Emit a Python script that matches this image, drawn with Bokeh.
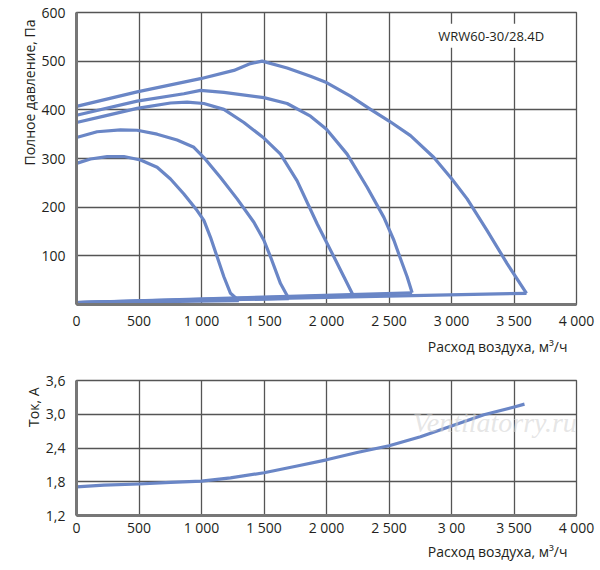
from bokeh.plotting import figure
from bokeh.layouts import column
from bokeh.models import FixedTicker, Label, Title, Range1d
from bokeh.embed import file_html
from bokeh.resources import INLINE

# pressure curves (flow m3/h, pressure Pa)
c1_x = [0, 112, 245, 379, 512, 645, 752, 859, 965, 1019, 1072, 1125, 1179, 1232, 1299]
c1_y = [290, 299, 304, 304, 297, 282, 258, 227, 193, 173, 138, 98, 57, 23, 8]
c2_x = [0, 165, 352, 485, 645, 805, 939, 1019, 1152, 1285, 1419, 1499, 1552, 1632, 1699]
c2_y = [343, 355, 359, 358, 350, 338, 323, 302, 261, 217, 169, 132, 98, 43, 12]
c3_x = [0, 219, 485, 752, 885, 1019, 1179, 1339, 1499, 1632, 1765, 1925, 2059, 2139, 2213]
c3_y = [374, 387, 403, 414, 416, 413, 401, 374, 342, 309, 254, 166, 98, 57, 19]
c4_x = [0, 485, 859, 992, 1179, 1499, 1685, 1872, 2000, 2165, 2325, 2459, 2539, 2592, 2645, 2685]
c4_y = [389, 418, 433, 440, 436, 425, 413, 387, 360, 309, 241, 179, 132, 94, 57, 24]
c5_x = [0, 485, 992, 1259, 1392, 1485, 1685, 1872, 2000, 2192, 2352, 2501, 2672, 2859, 3003,
        3125, 3285, 3445, 3600]
c5_y = [407, 437, 464, 481, 495, 500, 486, 469, 456, 428, 401, 377, 347, 302, 258,
        217, 152, 84, 23]
curves = [(c1_x, c1_y), (c2_x, c2_y), (c3_x, c3_y), (c4_x, c4_y), (c5_x, c5_y)]
base_x, base_y = 0, 4

# current curve (flow m3/h, current A)
cur_x = [0, 219, 501, 752, 1000, 1232, 1501, 1765, 2000, 2245, 2501, 2752, 3000, 3259, 3502, 3584]
cur_y = [1.71, 1.74, 1.76, 1.79, 1.81, 1.87, 1.96, 2.08, 2.19, 2.32, 2.44, 2.60, 2.79, 2.99, 3.13, 3.18]

x_ticks = [0, 500, 1000, 1500, 2000, 2500, 3000, 3500, 4000]
x_labels_top = ["0", "500", "1 000", "1 500", "2 000", "2 500", "3 000", "3 500", "4 000"]
x_labels_bot = ["0", "500", "1 000", "1 500", "2 000", "2 500", "3 00", "3 500", "4 000"]
p_ticks = [100, 200, 300, 400, 500, 600]
a_ticks = [1.2, 1.8, 2.4, 3.0, 3.6]
a_labels = ["1,2", "1,8", "2,4", "3,0", "3,6"]

FONT = "Open Sans"
TXT = "#231f20"
BLUE = "#6a86c6"
GRID = "#555555"


def style(p, yticks, xstand):
    p.xaxis.ticker = FixedTicker(ticks=x_ticks)
    p.yaxis.ticker = FixedTicker(ticks=yticks)
    for ax in (p.xaxis[0], p.yaxis[0]):
        ax.major_tick_line_color = None
        ax.minor_tick_line_color = None
        ax.major_tick_out = 0
        ax.major_tick_in = 0
        ax.axis_line_color = "#777777"
        ax.axis_line_width = 3
        ax.major_label_text_font = FONT
        ax.major_label_text_font_size = "14px"
        ax.major_label_text_color = TXT
    p.xaxis.major_label_standoff = xstand
    p.yaxis.major_label_standoff = 11
    p.xgrid.grid_line_color = GRID
    p.ygrid.grid_line_color = GRID
    p.xgrid.grid_line_width = 1.3
    p.ygrid.grid_line_width = 1.3
    p.outline_line_color = GRID
    p.outline_line_width = 1.3
    p.background_fill_color = "white"
    p.border_fill_color = "white"


def title(text, offset, standoff):
    return Title(text=text, align="right", offset=offset, standoff=standoff,
                 text_font=FONT, text_font_size="14px",
                 text_font_style="normal", text_color=TXT)


p1 = figure(width=600, height=359, output_backend="svg", toolbar_location=None,
            x_range=Range1d(0, 4000), y_range=Range1d(0, 600),
            min_border_left=76, min_border_right=24, min_border_top=12, min_border_bottom=55)
style(p1, p_ticks, 6)
p1.xaxis.major_label_overrides = dict(zip(x_ticks, x_labels_top))
for cx, cy in curves:
    p1.line(cx, cy, line_color=BLUE, line_width=3.2, line_join="round")
    p1.line([base_x, cx[-1]], [base_y, cy[-1]], line_color=BLUE, line_width=3.2)
p1.add_layout(Label(x=2870, y=552, text="WRW60-30/28.4D", text_font=FONT,
                    text_font_size="13px", text_color=TXT, text_baseline="middle",
                    background_fill_color="white", padding=3))
p1.add_layout(title("Расход воздуха, м³/ч", 9, 5), "below")
p1.add_layout(title("Полное давление, Па", 7, 0), "left")

p2 = figure(width=600, height=203, output_backend="svg", toolbar_location=None,
            x_range=Range1d(0, 4000), y_range=Range1d(1.2, 3.6),
            min_border_left=76, min_border_right=24, min_border_top=21, min_border_bottom=47)
style(p2, a_ticks, 2)
p2.xaxis.major_label_overrides = dict(zip(x_ticks, x_labels_bot))
p2.yaxis.major_label_overrides = dict(zip(a_ticks, a_labels))
p2.line(cur_x, cur_y, line_color=BLUE, line_width=3.2, line_join="round")
p2.add_layout(Label(x=2690, y=2.86, text="Ventilatorry.ru", text_font="Liberation Serif",
                    text_font_size="28px", text_font_style="italic", text_color="#d0d0d0",
                    text_alpha=0.55, text_baseline="middle"))
p2.add_layout(title("Расход воздуха, м³/ч", 9, 1), "below")
p2.add_layout(title("Ток, А", 7, 0), "left")

layout = column(p1, p2, spacing=0)
open("out.html", "w").write(file_html(layout, INLINE))
